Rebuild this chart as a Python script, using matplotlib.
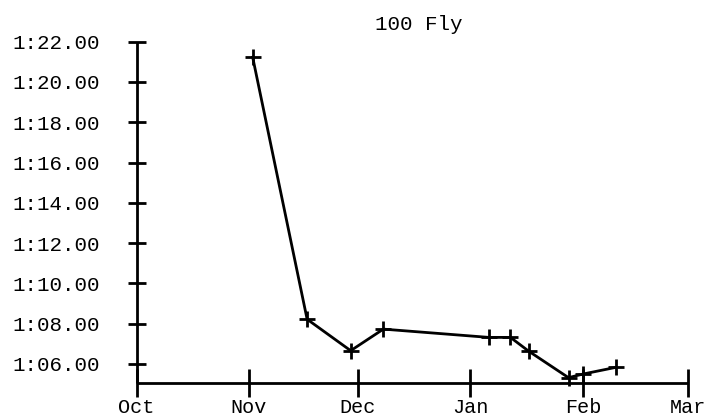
import matplotlib
matplotlib.use("Agg")
import matplotlib.pyplot as plt
import matplotlib.dates as mdates
from matplotlib.ticker import FuncFormatter, MultipleLocator
import datetime as dt

title = "100 Fly"
dates = ["2019-11-02", "2019-11-17", "2019-11-29", "2019-12-08", "2020-01-06",
         "2020-01-12", "2020-01-17", "2020-01-28", "2020-02-01", "2020-02-10"]
times_sec = [81.23, 68.22, 66.66, 67.73, 67.32, 67.32, 66.64, 65.32, 65.50, 65.83]
x_start, x_end = "2019-10-01", "2020-03-01"
y_min, y_max = 65.07, 82.0

plt.rcParams['font.family'] = ['Liberation Mono', 'DejaVu Sans Mono']
fs = 15

W, H = 709, 417
fig = plt.figure(figsize=(W / 100, H / 100), dpi=100)
ax = fig.add_axes([136.5 / W, (H - 382.7) / H, (688.3 - 136.5) / W, (382.7 - 41.7) / H])

xd = [dt.datetime.strptime(d, "%Y-%m-%d") for d in dates]
ax.plot(xd, times_sec, color='black', lw=2.0, marker='+', ms=11, mew=2.0, clip_on=False)

ax.set_xlim(dt.datetime.strptime(x_start, "%Y-%m-%d"), dt.datetime.strptime(x_end, "%Y-%m-%d"))
ax.set_ylim(y_min, y_max)

ax.xaxis.set_major_locator(mdates.MonthLocator())
ax.xaxis.set_major_formatter(mdates.DateFormatter('%b'))
ax.yaxis.set_major_locator(MultipleLocator(2))

def fmt(v, pos):
    m = int(v // 60)
    s = v - 60 * m
    return f"{m}:{s:05.2f}"
ax.yaxis.set_major_formatter(FuncFormatter(fmt))

for s in ['top', 'right']:
    ax.spines[s].set_visible(False)
for s in ['left', 'bottom']:
    ax.spines[s].set_linewidth(2.0)
    ax.spines[s].set_color('black')
    ax.spines[s].set_capstyle('butt')

ax.tick_params(axis='y', direction='inout', length=13, width=2.0, pad=20, labelsize=fs)
ax.tick_params(axis='x', direction='inout', length=19.5, width=2.0, pad=1.5, labelsize=14.5)

fig.text(419 / W, (H - 24) / H, title, ha='center', va='center', fontsize=fs)

fig.savefig("out.png", dpi=100)
